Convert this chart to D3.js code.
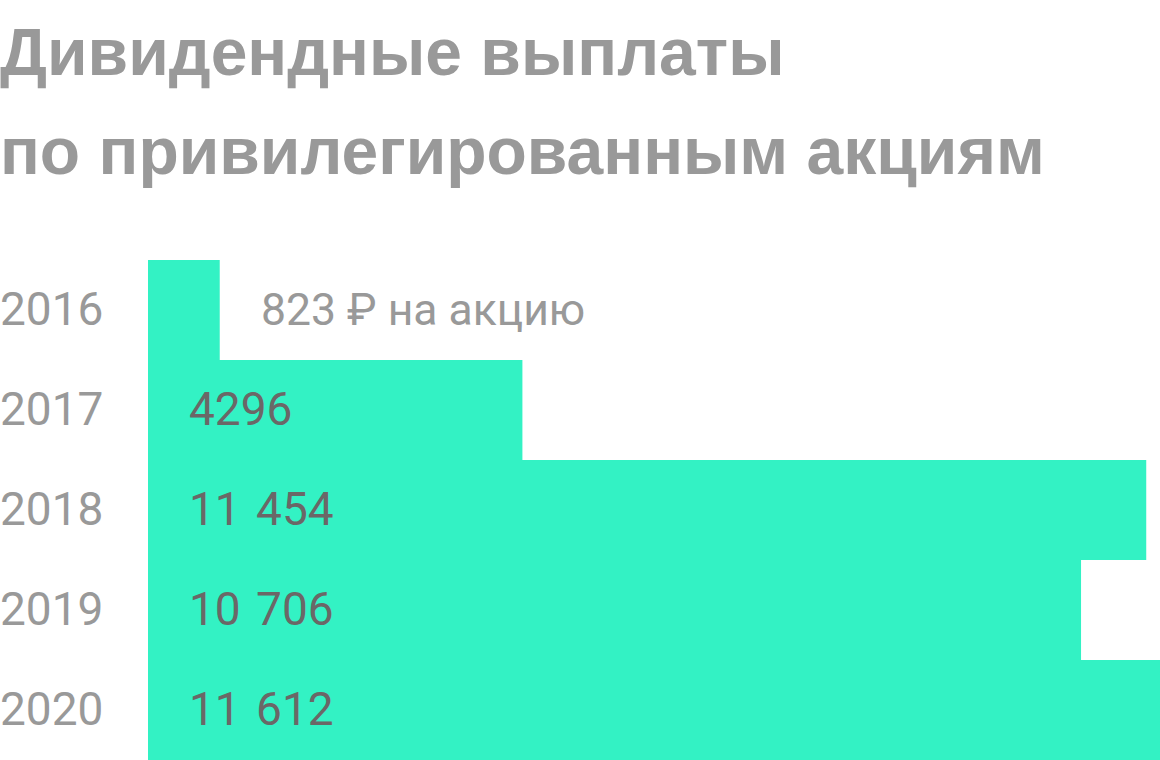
<!DOCTYPE html>
<html>
<head>
<meta charset="utf-8">
<script src="https://cdn.jsdelivr.net/npm/d3@7"></script>
<style>
  body { margin: 0; background: #fff; }
  text { font-family: Roboto, "Noto Sans", sans-serif; }
</style>
</head>
<body>
<div id="chart"></div>
<script>
// Données
const years = ["2016", "2017", "2018", "2019", "2020"];
const payouts = [823, 4296, 11454, 10706, 11612];
const valueLabels = ["823 ₽ на акцию", "4296", "11 454", "10 706", "11 612"];
const titleLines = ["Дивидендные выплаты", "по привилегированным акциям"];

const width = 1160, height = 760;

const svg = d3.select("#chart")
  .append("svg")
  .attr("width", width)
  .attr("height", height);

// Titre
svg.selectAll("text.title")
  .data(titleLines)
  .enter().append("text")
  .attr("class", "title")
  .attr("x", 0)
  .attr("y", (d, i) => 75 + i * 99)
  .attr("fill", "#999999")
  .style("font-family", "'Liberation Sans', Arial, sans-serif")
  .style("font-size", "66px")
  .style("font-weight", 700)
  .text(d => d);

// Échelles
const x = d3.scaleLinear()
  .domain([0, d3.max(payouts)])
  .range([148, width]);

const y = d3.scaleBand()
  .domain(years)
  .range([260, 760])
  .padding(0);

// Barres
svg.selectAll("rect.bar")
  .data(payouts)
  .enter().append("rect")
  .attr("class", "bar")
  .attr("x", x(0))
  .attr("y", (d, i) => y(years[i]))
  .attr("width", d => x(d) - x(0))
  .attr("height", y.bandwidth())
  .attr("fill", "#33f2c4");

// Années
svg.selectAll("text.year")
  .data(years)
  .enter().append("text")
  .attr("class", "year")
  .attr("x", 0)
  .attr("y", d => y(d) + y.bandwidth() / 2 + 15)
  .attr("fill", "#999999")
  .style("font-size", "46px")
  .text(d => d);

// Valeurs
svg.selectAll("text.value")
  .data(valueLabels)
  .enter().append("text")
  .attr("class", "value")
  .attr("x", (d, i) => i === 0 ? 261 : 189)
  .attr("y", (d, i) => y(years[i]) + y.bandwidth() / 2 + 15)
  .attr("fill", (d, i) => i === 0 ? "#999999" : "#6b6767")
  .style("font-size", (d, i) => i === 0 ? "44.5px" : "46px")
  .style("word-spacing", (d, i) => i === 0 ? "0px" : "4px")
  .text(d => d);
</script>
</body>
</html>
